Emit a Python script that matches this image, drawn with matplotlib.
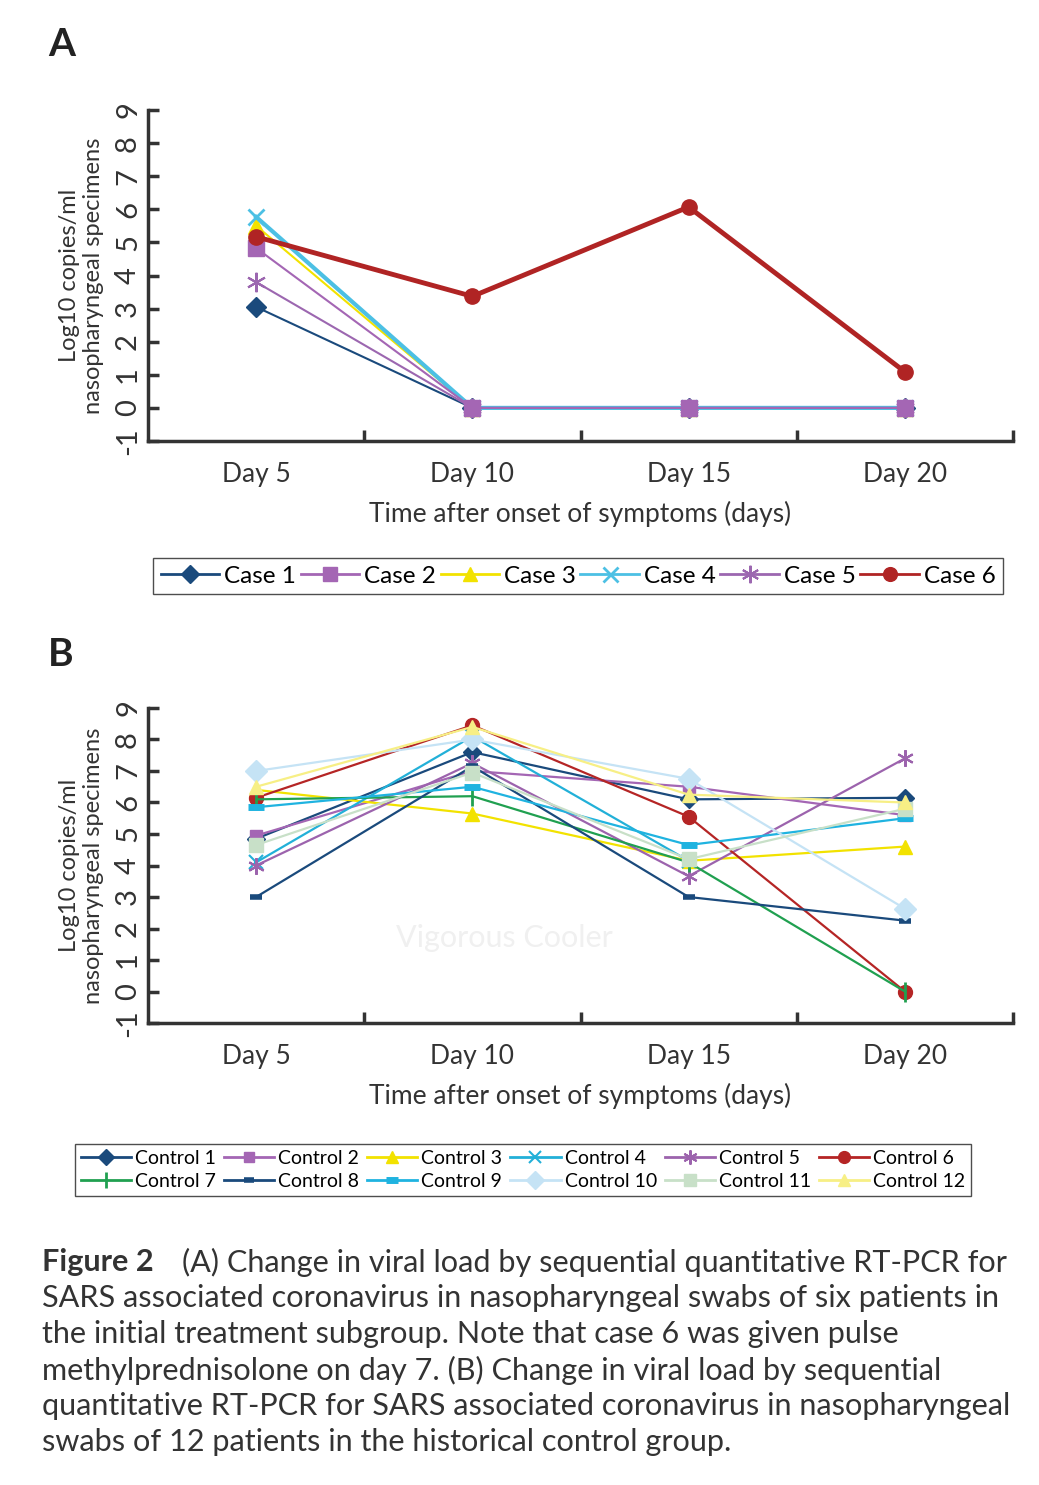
import numpy as np
import matplotlib
matplotlib.use('Agg')
import matplotlib.pyplot as plt
from matplotlib.lines import Line2D

plt.rcParams['font.family'] = ['Lato', 'DejaVu Sans']

days = ['Day 5', 'Day 10', 'Day 15', 'Day 20']

# Panel A - initial treatment subgroup
case_names = ['Case 1', 'Case 2', 'Case 3', 'Case 4', 'Case 5', 'Case 6']
case1 = [3.05, 0, 0, 0]
case2 = [4.83, 0, 0, 0]
case3 = [5.5, 0, 0, 0]
case4 = [5.77, 0, 0, 0]
case5 = [3.8, 0, 0, 0]
case6 = [5.17, 3.37, 6.07, 1.09]

# Panel B - historical control group
control_names = ['Control 1', 'Control 2', 'Control 3', 'Control 4', 'Control 5', 'Control 6',
                 'Control 7', 'Control 8', 'Control 9', 'Control 10', 'Control 11', 'Control 12']
control1 = [4.85, 7.6, 6.1, 6.15]
control2 = [4.95, 7.0, 6.5, 5.6]
control3 = [6.4, 5.65, 4.15, 4.6]
control4 = [4.1, 8.1, 4.15, np.nan]
control5 = [4.0, 7.25, 3.66, 7.4]
control6 = [6.15, 8.45, 5.55, 0.0]
control7 = [6.1, 6.2, 4.1, 0.0]
control8 = [3.0, 7.15, 3.0, 2.25]
control9 = [5.85, 6.5, 4.65, 5.5]
control10 = [7.0, 8.0, 6.75, 2.63]
control11 = [4.65, 6.95, 4.2, 5.8]
control12 = [6.5, 8.4, 6.25, 6.0]

x = np.arange(len(days))
W, H = 1039, 1485

fig = plt.figure(figsize=(W / 100, H / 100), dpi=100)

def style_axes(ax):
    ax.set_xlim(-0.5, 3.5)
    ax.set_ylim(-1, 9)
    for s in ['top', 'right']:
        ax.spines[s].set_visible(False)
    for s in ['left', 'bottom']:
        ax.spines[s].set_linewidth(2.5)
        ax.spines[s].set_color('#333333')
    ax.set_yticks(range(-1, 10))
    ax.set_yticklabels([str(v) for v in range(-1, 10)], rotation=90, va='center')
    ax.tick_params(axis='y', direction='in', length=8, width=2.5, color='#333333',
                   labelsize=21, pad=5, labelcolor='#333333')
    ax.set_xticks([0.5, 1.5, 2.5, 3.5])
    ax.set_xticklabels([])
    ax.set_xticks(x, minor=True)
    ax.set_xticklabels(days, minor=True)
    ax.tick_params(axis='x', which='major', direction='in', length=8, width=2.5, color='#333333')
    ax.tick_params(axis='x', which='minor', length=0, labelsize=19, pad=15, labelcolor='#333333')
    ax.set_xlabel('Time after onset of symptoms (days)', fontsize=19, color='#333333', labelpad=10)
    ax.set_ylabel('Log10 copies/ml\nnasopharyngeal specimens', fontsize=17,
                  color='#333333', labelpad=8, linespacing=1.2)

# ---- A ----
axA = fig.add_axes([148 / W, 1 - 441 / H, 865 / W, 331 / H])
style_axes(axA)
a_series = [case1, case2, case3, case4, case5, case6]
a_style = [
    dict(color='#1a4a7c', marker='D', ms=10, lw=1.5, zorder=3),
    dict(color='#a466b4', marker='s', ms=11, lw=1.5, zorder=6),
    dict(color='#f2e200', marker='^', ms=11, lw=1.5, zorder=3),
    dict(color='#4cc0e4', marker='x', ms=12, mew=2, lw=3, zorder=4),
    dict(color='#9c67b0', marker=(6, 2, 0), ms=14, mew=1.5, lw=1.5, zorder=5),
    dict(color='#b02424', marker='o', ms=11, lw=3.5, zorder=7),
]
for vals, st in zip(a_series, a_style):
    axA.plot(x, vals, **st)
handlesA = [Line2D([], [], color=st['color'], marker=st['marker'], ms=st['ms'] * 0.9,
                   mew=st.get('mew', 1), lw=2) for st in a_style]
fig.legend(handlesA, case_names, loc='center', bbox_to_anchor=(578 / W, 1 - 576 / H), ncol=6,
           fontsize=17.5, frameon=True, fancybox=False, edgecolor='#222222',
           handlelength=2.4, handletextpad=0.2, columnspacing=0.2, borderpad=0.3)
fig.text(48 / W, 1 - 45 / H, 'A', fontsize=28, fontweight='bold', color='#222222', va='center')

# ---- B ----
axB = fig.add_axes([148 / W, 1 - 1023 / H, 865 / W, 315 / H])
style_axes(axB)
b_series = [control1, control2, control3, control4, control5, control6,
            control7, control8, control9, control10, control11, control12]
b_style = [
    dict(color='#1a4a7c', marker='D', ms=9),
    dict(color='#a466b4', marker='s', ms=8),
    dict(color='#f2e200', marker='^', ms=10),
    dict(color='#22b0d8', marker='x', ms=10, mew=1.5),
    dict(color='#9c63ad', marker=(6, 2, 0), ms=12, mew=1.5),
    dict(color='#b52525', marker='o', ms=10),
    dict(color='#20a050', marker='|', ms=14, mew=2),
    dict(color='#1a4a7c', marker='_', ms=8, mew=4),
    dict(color='#1fb3e0', marker='_', ms=11, mew=5),
    dict(color='#c5e3f5', marker='D', ms=11),
    dict(color='#c8e0c8', marker='s', ms=10),
    dict(color='#f7ef85', marker='^', ms=10),
]
for vals, st in zip(b_series, b_style):
    axB.plot(x, vals, lw=1.6, **st)
axB.text(1.15, 1.7, 'Vigorous Cooler', fontsize=22, color='#f0f0f0', ha='center', va='center', zorder=0)
handlesB = [Line2D([], [], color=st['color'], marker=st['marker'], ms=st['ms'] * 0.85,
                   mew=st.get('mew', 1), lw=2) for st in b_style]
# legend fills column by column, so interleave the two rows
order = [i + 6 * r for i in range(6) for r in range(2)]
fig.legend([handlesB[i] for i in order], [control_names[i] for i in order],
           loc='center', bbox_to_anchor=(523 / W, 1 - 1170 / H), ncol=6,
           fontsize=14, frameon=True, fancybox=False, edgecolor='#222222',
           handlelength=2.6, handletextpad=0.2, columnspacing=0.4, borderpad=0.3,
           labelspacing=0.3)
fig.text(48 / W, 1 - 655 / H, 'B', fontsize=28, fontweight='bold', color='#222222', va='center')

# ---- caption ----
lines = [
    '(A) Change in viral load by sequential quantitative RT-PCR for',
    'SARS associated coronavirus in nasopharyngeal swabs of six patients in',
    'the initial treatment subgroup. Note that case 6 was given pulse',
    'methylprednisolone on day 7. (B) Change in viral load by sequential',
    'quantitative RT-PCR for SARS associated coronavirus in nasopharyngeal',
    'swabs of 12 patients in the historical control group.',
]
y0 = 1262
# size the caption so the longest line spans the same width as in the print
probe = fig.text(0, 0, lines[1], fontsize=20)
fig.canvas.draw()
fs = 20 * 958 / probe.get_window_extent().width
probe.remove()
t = fig.text(42 / W, 1 - y0 / H, 'Figure 2', fontsize=fs, fontweight='bold',
             color='#333333', va='center')
fig.canvas.draw()
bb = t.get_window_extent()
fig.text((bb.x1 + 28) / W, 1 - y0 / H, lines[0], fontsize=fs,
         color='#333333', va='center')
for i, ln in enumerate(lines[1:], start=1):
    fig.text(42 / W, 1 - (y0 + 36 * i) / H, ln, fontsize=fs,
             color='#333333', va='center')

fig.savefig('out.png', dpi=100)
